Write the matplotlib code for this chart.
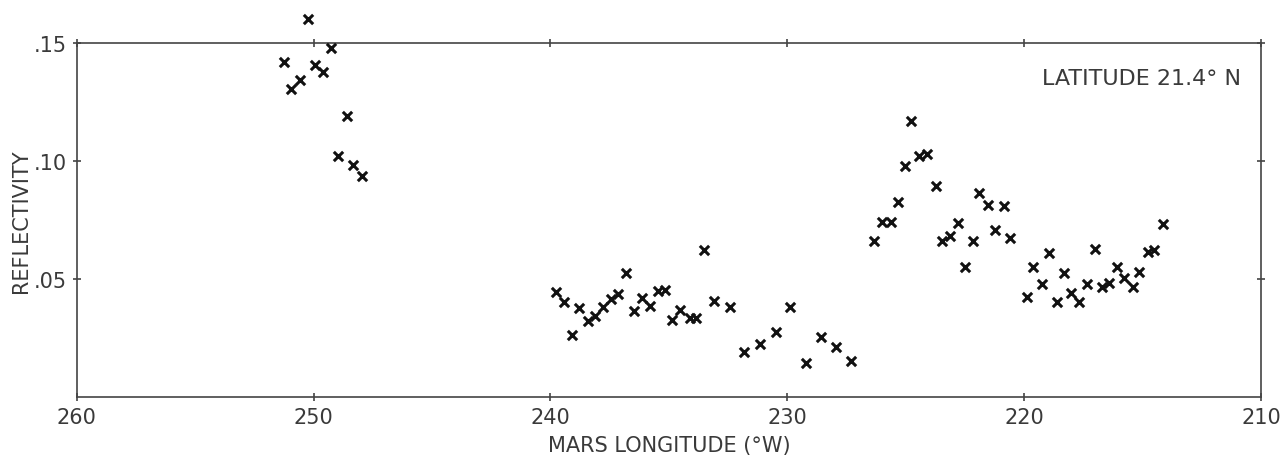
import matplotlib
matplotlib.use("Agg")
import matplotlib.pyplot as plt

longitude = [
    250.23, 249.27, 251.25, 249.95, 249.62, 250.58, 250.97, 248.61, 248.97, 248.33, 247.97,
    239.75, 239.44, 239.09, 238.79, 238.41, 238.13, 237.78, 237.46, 237.15, 236.79,
    236.47, 236.12, 235.81, 235.46, 235.18, 234.85, 234.51, 234.12, 233.87, 233.53,
    233.11, 232.43, 231.83, 231.17, 230.49, 229.87, 229.23, 228.57, 227.96, 227.30,
    226.32, 225.99, 225.61, 225.33, 225.02, 224.77, 224.42, 224.09, 223.74, 223.46,
    223.12, 222.80, 222.48, 222.17, 221.92, 221.54, 221.25, 220.87, 220.58,
    219.89, 219.61, 219.26, 218.96, 218.61, 218.33, 218.02, 217.67, 217.34, 217.03,
    216.71, 216.40, 216.09, 215.77, 215.42, 215.14, 214.78, 214.50, 214.15,
]
reflectivity = [
    0.160, 0.148, 0.142, 0.1408, 0.1378, 0.1343, 0.1305, 0.1192, 0.1022, 0.0983, 0.0938,
    0.0444, 0.0404, 0.0263, 0.0377, 0.0323, 0.0342, 0.0380, 0.0415, 0.0436, 0.0525,
    0.0366, 0.0418, 0.0387, 0.0448, 0.0453, 0.0328, 0.0370, 0.0333, 0.0333, 0.0624,
    0.0406, 0.0383, 0.0192, 0.0223, 0.0274, 0.0383, 0.0144, 0.0253, 0.0211, 0.0154,
    0.0660, 0.0743, 0.0740, 0.0825, 0.0980, 0.1171, 0.1020, 0.1030, 0.0893, 0.0662,
    0.0681, 0.0736, 0.0550, 0.0662, 0.0863, 0.0814, 0.0709, 0.0808, 0.0672,
    0.0422, 0.0550, 0.0479, 0.0609, 0.0404, 0.0524, 0.0441, 0.0401, 0.0479, 0.0627,
    0.0465, 0.0483, 0.0550, 0.0503, 0.0467, 0.0531, 0.0616, 0.0623, 0.0733,
]

x_ticks = [260, 250, 240, 230, 220, 210]
y_ticks = [0.05, 0.10, 0.15]
y_tick_labels = [".05", ".10", ".15"]

text_color = "#3a3a3a"
fig = plt.figure(figsize=(12.83, 4.64), dpi=100)
ax = fig.add_axes([0.0598, 0.1422, 0.9231, 0.763])

ax.scatter(longitude, reflectivity, marker="x", s=45, linewidths=2.2,
           color="#111111", clip_on=False, zorder=3)

ax.set_xlim(260, 210)
ax.set_ylim(0, 0.15)
ax.set_xticks(x_ticks)
ax.set_xticklabels([str(t) for t in x_ticks])
ax.set_yticks(y_ticks)
ax.set_yticklabels(y_tick_labels)

for s in ax.spines.values():
    s.set_color("#444444")
    s.set_linewidth(1.2)

ax.tick_params(axis="both", direction="inout", length=6, width=1.2, color="#444444",
               top=True, right=True, labelsize=15, labelcolor=text_color, pad=4)

ax.set_xlabel("MARS LONGITUDE (°W)", fontsize=15, color=text_color, labelpad=6)
ax.set_ylabel("REFLECTIVITY", fontsize=15, color=text_color, labelpad=2)

ax.text(0.983, 0.90, "LATITUDE 21.4° N", transform=ax.transAxes, ha="right",
        va="center", fontsize=16, color=text_color)

fig.savefig("out.png", dpi=100)
